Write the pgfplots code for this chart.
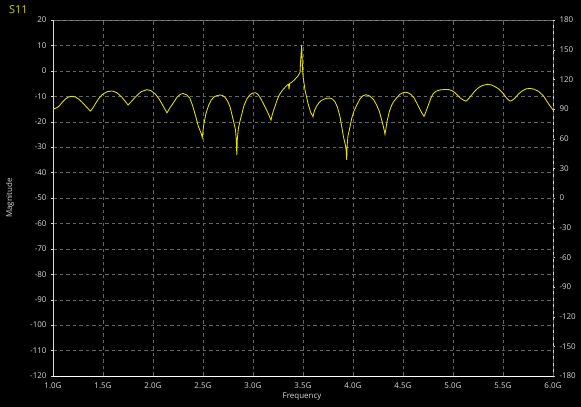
\documentclass[border=0pt]{standalone}
\usepackage{fontspec}
\setmainfont{Open Sans}
\usepackage{pgfplots}
\pgfplotsset{compat=1.18}

\definecolor{trace}{RGB}{228,228,0}
\definecolor{titleyel}{RGB}{210,210,0}
\definecolor{gridgray}{RGB}{100,100,100}
\definecolor{labgray}{RGB}{215,215,215}

\pgfplotsset{
  vnastyle/.style={
    scale only axis, width=500bp, height=356bp,
    at={(53bp,31bp)}, anchor=south west,
    xmin=1, xmax=6,
    tick label style={text=labgray, font=\fontsize{8}{9.5}\selectfont},
    label style={text=labgray, font=\fontsize{8}{9.5}\selectfont},
    /pgf/number format/assume math mode=true,
    axis line style={-},
    tick align=outside, major tick length=2bp,
    tick style={labgray},
  },
}

\begin{document}
\begin{tikzpicture}
\fill[black] (0,0) rectangle (581bp,407bp);
\useasboundingbox (0,0) rectangle (581bp,407bp);
\node[anchor=west, text=titleyel, font=\fontsize{11}{13}\selectfont] at (5.5bp,397.5bp) {S11};

% right axis (phase scale) and top line
\begin{axis}[vnastyle,
    ymin=-180, ymax=180, ytick={-180,-150,...,180},
    axis y line*=right, axis x line*=top,
    xtick=\empty,
    y axis line style={labgray}, x axis line style={gray},
    yticklabel style={xshift=1bp},
  ]
\end{axis}

% magnitude axis
\begin{axis}[vnastyle,
    ymin=-120, ymax=20, ytick={-120,-110,...,20},
    xtick={1,1.5,...,6},
    xticklabels={1.0G,1.5G,2.0G,2.5G,3.0G,3.5G,4.0G,4.5G,5.0G,5.5G,6.0G},
    axis y line*=left, axis x line*=bottom,
    x axis line style={white}, y axis line style={labgray},
    xtick style={draw=none},
    yticklabel style={xshift=-1bp},
    xticklabel style={yshift=-1bp},
    grid=major,
    major grid style={gridgray, dash pattern=on 3.5bp off 3bp},
    xlabel={Frequency}, ylabel={Magnitude},
    xlabel style={at={(axis description cs:0.498,-0.059)}, anchor=center},
    ylabel style={at={(axis description cs:-0.086,0.5)}, anchor=center},
  ]
\addplot[trace, line width=0.85pt] coordinates {
(1.00,-15.0)(1.03,-14.7)(1.057,-14.0)(1.09,-12.5)(1.123,-11.1)(1.155,-10.3)(1.19,-10.0)
(1.225,-10.3)(1.257,-11.1)(1.29,-12.3)(1.323,-13.7)(1.35,-14.8)(1.373,-15.8)
(1.395,-14.8)(1.423,-13.0)(1.455,-11.0)(1.49,-9.4)(1.54,-8.2)(1.59,-7.9)
(1.64,-8.6)(1.69,-10.4)(1.72,-11.9)(1.75,-13.4)
(1.785,-12.0)(1.823,-10.3)(1.88,-8.2)(1.94,-7.4)
(1.98,-7.8)(2.023,-9.1)(2.06,-11.0)(2.09,-13.0)(2.115,-14.8)(2.14,-16.5)
(2.17,-14.5)(2.207,-12.4)(2.24,-10.4)(2.273,-9.2)(2.30,-8.9)
(2.339,-9.5)(2.368,-10.7)(2.397,-13.8)(2.425,-17.6)(2.454,-21.9)(2.474,-23.8)(2.483,-24.8)(2.493,-26.2)
(2.502,-22.9)(2.511,-20.4)(2.528,-17.0)(2.555,-13.7)(2.582,-11.5)(2.608,-10.3)(2.635,-9.8)(2.67,-9.5)
(2.695,-9.7)(2.720,-10.4)(2.746,-11.9)(2.771,-14.2)(2.804,-19.6)(2.825,-23.2)(2.833,-27.2)(2.838,-33.1)
(2.843,-27.0)(2.853,-22.8)(2.874,-19.1)(2.911,-13.5)(2.938,-11.1)(2.965,-9.6)(2.993,-8.8)(3.02,-8.6)
(3.036,-8.8)(3.052,-9.4)(3.076,-10.8)(3.10,-12.6)(3.124,-14.5)(3.148,-16.4)(3.164,-17.8)(3.18,-19.4)
(3.19,-17.6)(3.205,-15.6)(3.22,-14.0)(3.24,-11.6)(3.26,-9.7)(3.29,-7.8)(3.32,-6.5)(3.345,-5.5)
(3.355,-5.3)(3.36,-7.3)(3.366,-5.0)(3.39,-4.4)(3.42,-3.3)(3.45,-2.0)(3.47,-0.6)
(3.478,5.0)(3.487,10.2)(3.494,2.0)(3.50,-2.0)(3.52,-7.5)(3.55,-12.8)(3.575,-16.2)(3.60,-18.0)
(3.609,-16.5)(3.617,-15.4)(3.634,-14.0)(3.660,-12.5)(3.685,-11.6)(3.711,-11.1)(3.736,-10.8)(3.77,-10.7)
(3.795,-11.1)(3.82,-12.2)(3.845,-14.3)(3.87,-18.0)(3.904,-25.8)(3.924,-29.2)(3.932,-31.4)(3.937,-35.0)
(3.942,-29.0)(3.950,-25.5)(3.963,-23.3)(3.987,-18.7)(4.01,-15.8)(4.037,-13.5)(4.07,-11.0)(4.10,-9.8)(4.13,-9.4)
(4.168,-9.9)(4.206,-11.3)(4.236,-13.4)(4.263,-15.9)(4.288,-19.5)(4.301,-21.5)(4.31,-23.0)(4.32,-24.9)
(4.33,-22.5)(4.343,-19.4)(4.365,-15.8)(4.387,-13.5)(4.41,-11.9)(4.437,-10.6)(4.47,-9.2)(4.50,-8.6)(4.52,-8.4)
(4.55,-8.6)(4.58,-9.3)(4.61,-10.6)(4.637,-12.6)(4.67,-15.2)(4.69,-16.7)(4.71,-17.9)
(4.72,-17.0)(4.735,-15.4)(4.753,-13.5)(4.78,-10.6)(4.803,-8.9)(4.83,-8.0)(4.87,-7.5)(4.93,-7.3)
(4.96,-7.4)(4.99,-7.8)(5.02,-8.6)(5.05,-9.8)(5.08,-10.9)(5.105,-11.5)(5.13,-11.9)
(5.15,-11.2)(5.17,-10.3)(5.187,-9.5)(5.22,-7.9)(5.253,-6.7)(5.29,-5.8)(5.34,-5.3)
(5.38,-5.5)(5.42,-6.2)(5.46,-7.2)(5.503,-8.9)(5.537,-10.8)(5.57,-11.9)
(5.595,-11.5)(5.62,-10.7)(5.65,-9.3)(5.687,-8.0)(5.73,-7.1)(5.77,-6.9)
(5.81,-7.2)(5.853,-8.0)(5.903,-9.8)(5.953,-12.8)(5.98,-14.3)(6.00,-15.4)
};
\end{axis}
\end{tikzpicture}
\end{document}
